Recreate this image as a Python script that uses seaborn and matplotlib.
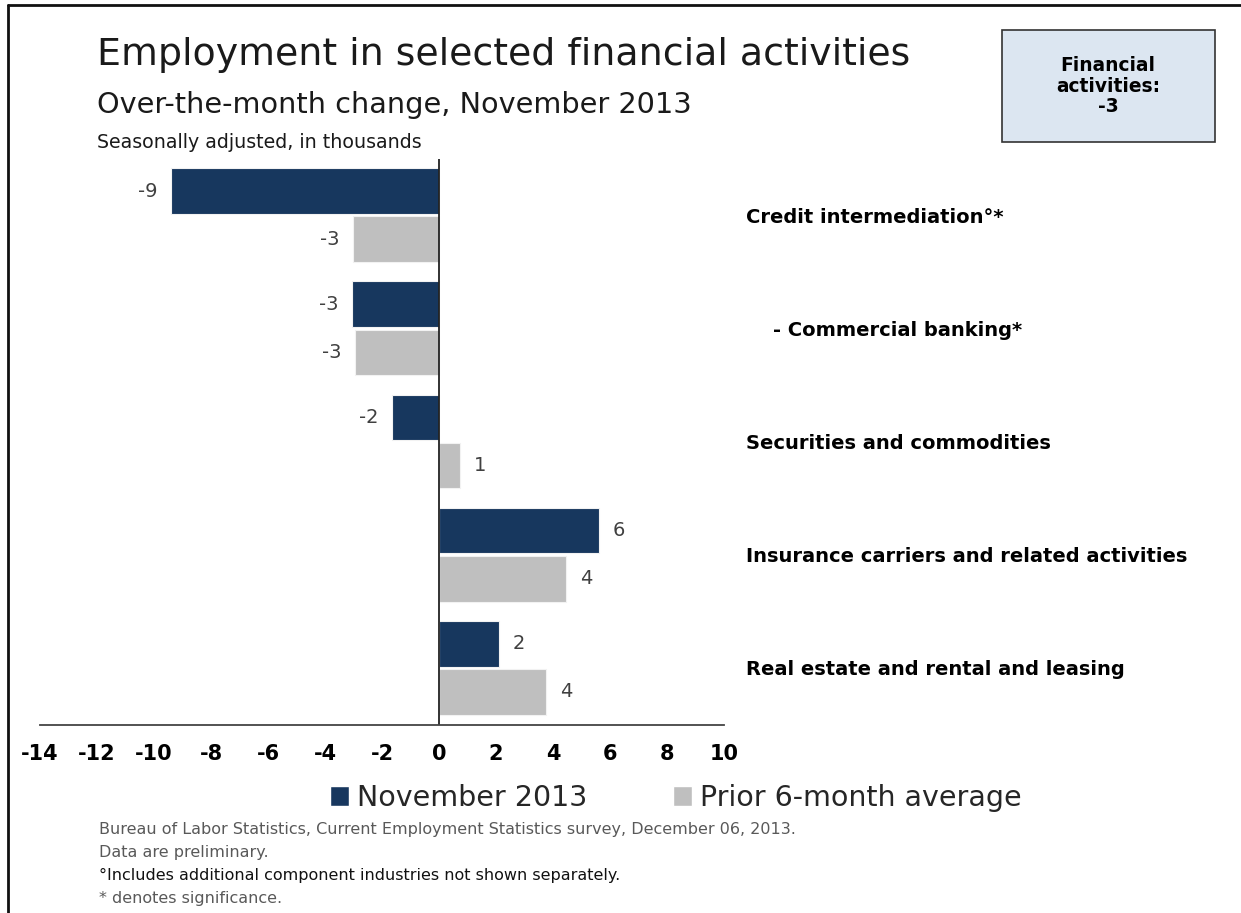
import pandas as pd
import seaborn as sns
import matplotlib.pyplot as plt
from matplotlib.patches import Patch, Rectangle
from matplotlib.lines import Line2D

# Datos
categorias = ['Credit intermediation°*',
              '    - Commercial banking*',
              'Securities and commodities',
              'Insurance carriers and related activities',
              'Real estate and rental and leasing']
noviembre_2013 = [-9.4, -3.05, -1.65, 5.6, 2.1]
promedio_6_meses = [-3.0, -2.95, 0.75, 4.45, 3.75]
series = ['November 2013', 'Prior 6-month average']
xticks = list(range(-14, 11, 2))

datos = pd.DataFrame({
    'categoria': categorias * 2,
    'valor': noviembre_2013 + promedio_6_meses,
    'serie': [series[0]] * len(categorias) + [series[1]] * len(categorias),
})

sns.set_style('white')
plt.rcParams['font.family'] = ['DejaVu Sans']
plt.rcParams['axes.unicode_minus'] = False

azul = '#17375E'
gris = '#BFBFBF'
W, H = 1241, 913

fig = plt.figure(figsize=(W / 100, H / 100), dpi=100)
ax = fig.add_axes([40 / W, 1 - 724.5 / H, 684 / W, 566 / H])

sns.barplot(data=datos, x='valor', y='categoria', hue='serie', orient='h',
            palette=[azul, gris], saturation=1, width=0.85, gap=0.05,
            edgecolor='#f2f2f2', linewidth=0.8, legend=False, ax=ax)

for cont in ax.containers:
    ax.bar_label(cont, fmt='%.0f', padding=10, fontsize=14, color='#404040')

ax.set_xlim(-14, 10)
ax.set_ylim(4.5, -0.5)
ax.axvline(0, color='#222222', lw=1.3)
for s in ['top', 'right', 'left']:
    ax.spines[s].set_visible(False)
ax.spines['bottom'].set_color('#444444')
ax.spines['bottom'].set_linewidth(1.3)
ax.set_xticks(xticks)
ax.tick_params(axis='x', direction='out', length=7, width=1, color='#444444',
               pad=7, labelsize=15, labelcolor='black')
for t in ax.get_xticklabels():
    t.set_fontweight('bold')
ax.yaxis.tick_right()
ax.tick_params(axis='y', length=0, pad=16, labelsize=14, labelcolor='black')
for t in ax.get_yticklabels():
    t.set_fontweight('bold')
    t.set_horizontalalignment('left')
ax.set_xlabel('')
ax.set_ylabel('')

# Títulos
fig.text(97 / W, 1 - 55 / H, 'Employment in selected financial activities',
         fontsize=27.3, va='center', color='#1a1a1a')
fig.text(97 / W, 1 - 105 / H, 'Over-the-month change, November 2013',
         fontsize=20.7, va='center', color='#1a1a1a')
fig.text(97 / W, 1 - 143 / H, 'Seasonally adjusted, in thousands',
         fontsize=13.7, va='center', color='#1a1a1a')

# Caja de resumen
fig.patches.append(Rectangle((1002 / W, 1 - 142 / H), 213 / W, 112 / H,
                             transform=fig.transFigure, facecolor='#DCE6F1',
                             edgecolor='#333333', lw=1.2))
fig.text(1108 / W, 1 - 86 / H, 'Financial\nactivities:\n-3', ha='center',
         va='center', fontsize=13.4, fontweight='bold', linespacing=1.12,
         color='black')

# Leyenda
manejadores = [Patch(facecolor=azul), Patch(facecolor=gris)]
fig.legend(manejadores, series, loc='center', bbox_to_anchor=(676 / W, 1 - 798 / H),
           ncol=2, frameon=False, fontsize=20.5, handlelength=0.68,
           handleheight=0.68, handletextpad=0.28, columnspacing=3.0)

# Notas
notas = ['Bureau of Labor Statistics, Current Employment Statistics survey, December 06, 2013.',
         'Data are preliminary.',
         '°Includes additional component industries not shown separately.',
         '* denotes significance.']
colores = ['#595959', '#595959', '#111111', '#595959']
for i, (nota, c) in enumerate(zip(notas, colores)):
    fig.text(99 / W, 1 - (829 + 23.3 * i) / H, nota, fontsize=11.5, va='center',
             color=c)

# Borde
fig.add_artist(Line2D([8 / W, 1], [1 - 5 / H, 1 - 5 / H], transform=fig.transFigure,
                      color='#111111', lw=2))
fig.add_artist(Line2D([8 / W, 8 / W], [1 - 5 / H, 0], transform=fig.transFigure,
                      color='#111111', lw=2))

plt.savefig('out.png', dpi=100)
plt.close()
